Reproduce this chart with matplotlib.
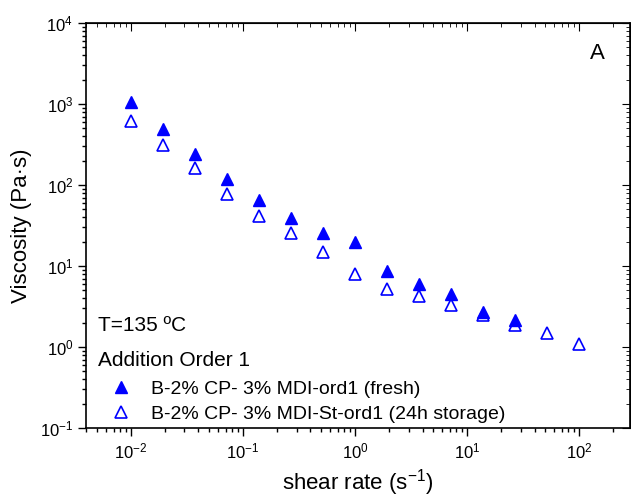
import matplotlib
matplotlib.use("Agg")
import matplotlib.pyplot as plt
import numpy as np
from matplotlib.ticker import LogLocator, NullFormatter

plt.rcParams['font.family'] = ['Liberation Sans', 'DejaVu Sans']
plt.rcParams['mathtext.fontset'] = 'custom'
plt.rcParams['mathtext.rm'] = 'Liberation Sans'
plt.rcParams['mathtext.it'] = 'Liberation Sans:italic'

# datos
shear_fresh = [0.01, 0.0193, 0.0373, 0.072, 0.139, 0.268, 0.518, 1.0,
               1.93, 3.73, 7.2, 13.9, 26.8]
visc_fresh = [1070, 490, 242, 120, 66, 39, 25.5, 20.0, 8.8, 6.0, 4.5, 2.7, 2.15]

shear_stor = [0.01, 0.0193, 0.0373, 0.072, 0.139, 0.268, 0.518, 1.0,
              1.93, 3.73, 7.2, 13.9, 26.8, 51.8, 100]
visc_stor = [615, 315, 160, 77, 41, 25.5, 14.8, 7.9, 5.2, 4.3, 3.3, 2.5,
             1.9, 1.5, 1.1]

label_fresh = "B-2% CP- 3% MDI-ord1 (fresh)"
label_stor = "B-2% CP- 3% MDI-St-ord1 (24h storage)"

fig = plt.figure(figsize=(6.31, 4.99), dpi=100)
ax = fig.add_axes([0.137, 0.142, 0.861, 0.812])

ax.plot(shear_fresh, visc_fresh, linestyle='none', marker='^', ms=9,
        color='#0000ff', label=label_fresh)
ax.plot(shear_stor, visc_stor, linestyle='none', marker='^', ms=9,
        mfc='none', mec='#0000ff', mew=1.2, label=label_stor)

ax.set_xscale('log')
ax.set_yscale('log')
ax.set_xlim(0.004, 283)
ax.set_ylim(0.1, 1e4)

for axis in (ax.xaxis, ax.yaxis):
    axis.set_major_locator(LogLocator(base=10, numticks=20))
    axis.set_minor_locator(LogLocator(base=10, subs=np.arange(2, 10), numticks=20))
    axis.set_minor_formatter(NullFormatter())

ax.tick_params(which='both', direction='out', labelsize=12, width=1)
ax.tick_params(which='major', length=6)
ax.tick_params(which='minor', length=3)

# ejes espejo arriba y derecha con ticks hacia dentro
top = ax.secondary_xaxis('top')
top.xaxis.set_major_locator(LogLocator(base=10, numticks=20))
top.xaxis.set_minor_locator(LogLocator(base=10, subs=np.arange(2, 10), numticks=20))
top.tick_params(which='both', direction='in', labeltop=False)
top.tick_params(which='major', length=6)
top.tick_params(which='minor', length=3)
right = ax.secondary_yaxis('right')
right.yaxis.set_major_locator(LogLocator(base=10, numticks=20))
right.yaxis.set_minor_locator(LogLocator(base=10, subs=np.arange(2, 10), numticks=20))
right.tick_params(which='both', direction='in', labelright=False)
right.tick_params(which='major', length=6)
right.tick_params(which='minor', length=3)

for sp in ax.spines.values():
    sp.set_linewidth(1.2)

ax.set_xlabel("shear rate (s$^{-1}$)", fontsize=16, labelpad=4)
ax.set_ylabel("Viscosity (Pa·s)", fontsize=16, labelpad=6)

ax.text(0.94, 0.925, "A", transform=ax.transAxes, fontsize=16,
        ha='center', va='center')
ax.text(0.021, 0.2526, "T=135 ºC", transform=ax.transAxes, fontsize=15,
        ha='left', va='center')
ax.text(0.021, 0.168, "Addition Order 1", transform=ax.transAxes, fontsize=15,
        ha='left', va='center')

leg = ax.legend(loc='upper left', bbox_to_anchor=(0.02, 0.128), frameon=False,
                fontsize=14, handletextpad=0.55, handlelength=2.0,
                labelspacing=0.40, borderaxespad=0.0, borderpad=0.2)

fig.savefig("out.png", dpi=100)
